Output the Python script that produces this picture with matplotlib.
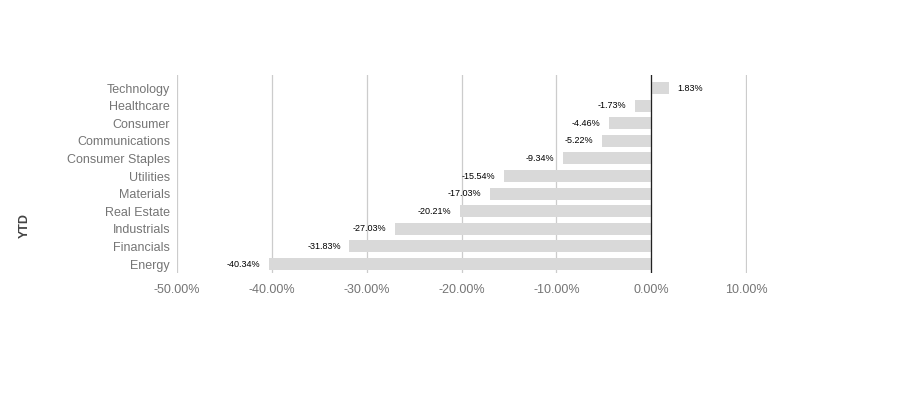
import matplotlib.pyplot as plt
from matplotlib.ticker import FuncFormatter

sectors = ['Energy', 'Financials', 'Industrials', 'Real Estate', 'Materials',
           'Utilities', 'Consumer Staples', 'Communications', 'Consumer',
           'Healthcare', 'Technology']
ytd = [-40.34, -31.83, -27.03, -20.21, -17.03, -15.54, -9.34, -5.22, -4.46,
       -1.73, 1.83]
xticks = [-50, -40, -30, -20, -10, 0, 10]

plt.rcParams['font.family'] = ['Liberation Sans', 'DejaVu Sans']

fig = plt.figure(figsize=(9.21, 3.96), dpi=100)
ax = fig.add_axes([177 / 921, 1 - 273 / 396, (747 - 177) / 921, 198 / 396])

ypos = list(range(len(sectors)))
ax.barh(ypos, ytd, height=0.68, color='#d9d9d9', zorder=2)

for y, v in zip(ypos, ytd):
    if v < 0:
        ax.text(v - 0.9, y, f'{v:.2f}%', ha='right', va='center', fontsize=6.5, color='#000000')
    else:
        ax.text(v + 0.9, y, f'{v:.2f}%', ha='left', va='center', fontsize=6.5, color='#000000')

ax.set_xlim(-50, 10.1)
ax.set_ylim(-0.51, 10.74)
ax.set_xticks(xticks)
ax.xaxis.set_major_formatter(FuncFormatter(lambda x, p: f'{x:.2f}%'))
ax.set_yticks(ypos)
ax.set_yticklabels(sectors)
ax.tick_params(axis='both', length=0, labelcolor='#757575', labelsize=9)
ax.tick_params(axis='y', pad=5)
ax.tick_params(axis='x', pad=8)

ax.grid(axis='x', color='#cccccc', linewidth=0.9, zorder=0)
ax.axvline(0, color='#222222', linewidth=0.9, zorder=3)
for s in ax.spines.values():
    s.set_visible(False)

fig.text(25 / 921, 1 - 226 / 396, 'YTD', rotation=90, ha='center', va='center',
         fontsize=9, fontweight='bold', color='#444444')

fig.savefig('out.png', dpi=100)
